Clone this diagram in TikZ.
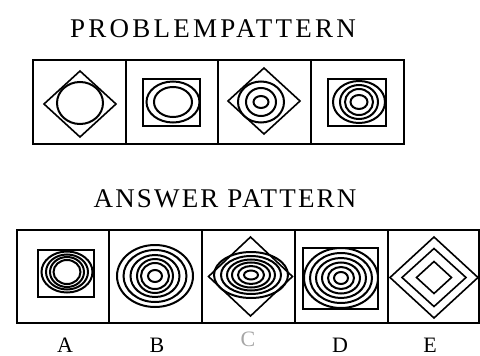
\documentclass[tikz,border=0pt]{standalone}
\usepackage{fontspec}
\setmainfont{Liberation Serif}
\tikzset{
  cell/.style={draw=black, line width=1.5pt},
  frame/.style={draw=black, line width=1.6pt},
  ring/.style={draw=black, line width=2pt},
  heading/.style={font=\fontsize{27}{27}\selectfont\addfontfeature{LetterSpace=#1}, inner sep=0pt},
  tag/.style={font=\fontsize{22}{22}\selectfont, inner sep=0pt, anchor=base}
}

\begin{document}
\begin{tikzpicture}[x=1pt, y=-1pt]
  \useasboundingbox (0,0) rectangle (480,356);

  % problem row
  \node[heading=12] (problemtitle) at (213,29) {PROBLEMPATTERN};
  \draw[cell] (33,60) rectangle (404,144);
  \foreach \x in {126,218,311}
    \draw[cell] (\x,60) -- (\x,144);

  \draw[frame] (44,104) -- ++(36,-33) -- ++(36,33) -- ++(-36,33) -- cycle;
  \draw[ring] (80,103) ellipse [x radius=23pt, y radius=21pt];

  \draw[frame] (143,79) rectangle (200,126);
  \foreach \rx/\ry in {26.5/20.5, 19/15}
    \draw[ring] (173,102) ellipse [x radius=\rx pt, y radius=\ry pt];

  \draw[frame] (228,101) -- ++(36,-33) -- ++(36,33) -- ++(-36,33) -- cycle;
  \foreach \rx/\ry in {23/20.5, 15/14, 7.5/6}
    \draw[ring] (261,102) ellipse [x radius=\rx pt, y radius=\ry pt];

  \draw[frame] (328,79) rectangle (386,126);
  \foreach \rx/\ry in {26/21, 19/17, 14/13, 8.5/7}
    \draw[ring] (359,102) ellipse [x radius=\rx pt, y radius=\ry pt];

  % answer row
  \node[heading=8] (answertitle) at (225,199) {ANSWER PATTERN};
  \draw[cell] (17,230) rectangle (479,323);
  \foreach \x in {109,202,295,388}
    \draw[cell] (\x,230) -- (\x,323);

  \draw[frame] (38,250) rectangle (94,297);
  \foreach \rx/\ry in {25.5/20.5, 21/17.5, 17/15, 13.5/12}
    \draw[ring] (67,272) ellipse [x radius=\rx pt, y radius=\ry pt];

  \foreach \rx/\ry in {38/31, 31.5/26, 24.5/21, 18/17, 14/13, 7/6}
    \draw[ring] (155,276) ellipse [x radius=\rx pt, y radius=\ry pt];

  \draw[frame] (208.5,276.5) -- ++(42,-39.5) -- ++(42,39.5) -- ++(-42,39.5) -- cycle;
  \foreach \rx/\ry in {37/23, 30/19, 24/15.5, 19/12.5, 13/9, 7/4.5}
    \draw[ring] (251,275) ellipse [x radius=\rx pt, y radius=\ry pt];

  \draw[frame] (303,248) rectangle (378,309);
  \foreach \rx/\ry in {37/30, 31/25, 25/20, 19/15.5, 13/11, 7/6}
    \draw[ring] (341,278) ellipse [x radius=\rx pt, y radius=\ry pt];

  \foreach \hw/\hh in {44/40.5, 32/29, 17.5/16}
    \draw[frame] (434-\hw,277.5) -- ++(\hw,-\hh) -- ++(\hw,\hh) -- ++(-\hw,\hh) -- cycle;

  % option letters
  \foreach \l/\x in {A/65, B/157, D/340, E/430}
    \node[tag] (lbl\l) at (\x,352) {\l};
  \node[tag, text=black!35] (lblC) at (248,346) {C};
\end{tikzpicture}
\end{document}
